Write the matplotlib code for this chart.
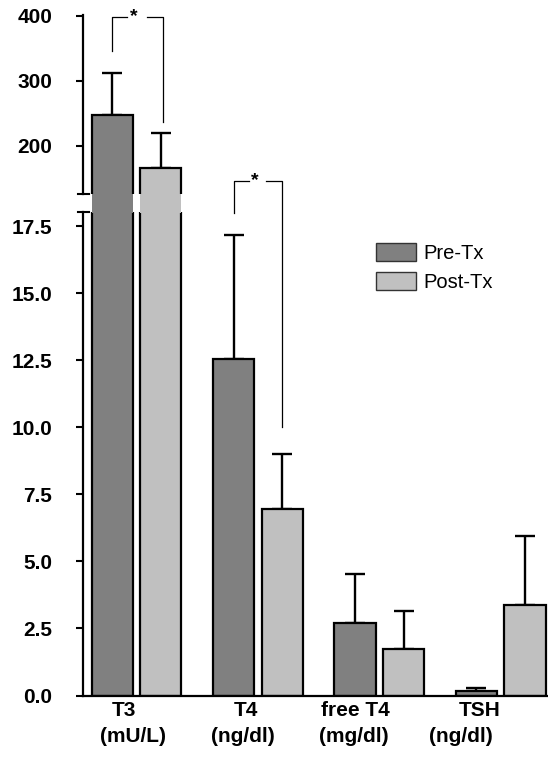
import numpy as np
import matplotlib
matplotlib.use("Agg")
from matplotlib import pyplot as plt
from matplotlib.patches import Rectangle, Patch
from matplotlib.lines import Line2D
from matplotlib.transforms import blended_transform_factory

plt.rcParams['font.family'] = ['Liberation Sans', 'DejaVu Sans']

# data
groups = ["T3", "T4", "free T4", "TSH"]
units = ["(mU/L)", "(ng/dl)", "(mg/dl)", "(ng/dl)"]
pre_mean = [247, 12.55, 2.72, 0.15]
pre_err = [65, 4.65, 1.80, 0.12]
post_mean = [166, 6.95, 1.74, 3.37]
post_err = [53, 2.05, 1.40, 2.58]
series = ["Pre-Tx", "Post-Tx"]
top_ticks = [200, 300, 400]
bot_ticks = [0.0, 2.5, 5.0, 7.5, 10.0, 12.5, 15.0, 17.5]

c_pre = "#808080"
c_post = "#c0c0c0"

W, H = 548, 757
fig = plt.figure(figsize=(W / 100, H / 100), dpi=100)

def fx(px):
    return px / W

def fy(py):
    return 1 - py / H

# axes: lower 0..18, upper 126..400
ax_top = fig.add_axes([fx(83), fy(194), fx(W - 83), fy(15) - fy(194)])
ax_bot = fig.add_axes([fx(83), fy(695.5), fx(W - 83), fy(212) - fy(695.5)])

x = np.arange(len(groups))
bw = 0.34
off = 0.2

for ax in (ax_top, ax_bot):
    ax.bar(x - off, pre_mean, bw, color=c_pre, edgecolor="black", lw=1.6, zorder=2)
    ax.bar(x + off, post_mean, bw, color=c_post, edgecolor="black", lw=1.6, zorder=2)
    ax.errorbar(x - off, pre_mean, yerr=[np.zeros(4), pre_err], fmt="none",
                ecolor="black", elinewidth=1.7, capsize=7.5, capthick=1.7, zorder=1)
    ax.errorbar(x + off, post_mean, yerr=[np.zeros(4), post_err], fmt="none",
                ecolor="black", elinewidth=1.7, capsize=7.5, capthick=1.7, zorder=1)
    ax.set_xlim(-0.441, 3.39)
    ax.set_facecolor("none")
    for s in ("top", "right"):
        ax.spines[s].set_visible(False)
    ax.spines["left"].set_linewidth(1.6)
    ax.set_xticks([])

ax_top.set_ylim(126, 401)
ax_top.spines["bottom"].set_visible(False)
ax_top.set_yticks(top_ticks)
ax_top.set_yticklabels(["%d" % t for t in top_ticks])

ax_bot.set_ylim(0, 18.04)
ax_bot.spines["bottom"].set_linewidth(1.6)
ax_bot.set_yticks(bot_ticks)
ax_bot.set_yticklabels(["%.1f" % t for t in bot_ticks])

for ax in (ax_top, ax_bot):
    ax.tick_params(axis="y", length=5, width=1.5, pad=17, labelsize=15)
    for lab in ax.get_yticklabels():
        lab.set_fontweight("bold")

# gray fill of the T3 bars through the axis break
tr = blended_transform_factory(ax_bot.transData, fig.transFigure)
for xc, col in ((x[0] - off, c_pre), (x[0] + off, c_post)):
    fig.add_artist(Rectangle((xc - bw / 2, fy(212.5)), bw, fy(193.5) - fy(212.5),
                             transform=tr, facecolor=col, edgecolor="none", zorder=5))

# caps at the break ends of the y axis
for py in (194, 212):
    fig.add_artist(Line2D([fx(78), fx(89)], [fy(py), fy(py)],
                          transform=fig.transFigure, color="black", lw=1.5))

# significance brackets
def bracket(ax, xl, xr, y_left, y_top, y_right):
    kw = dict(color="black", lw=0.9, clip_on=False)
    ax.plot([xl, xl, xl + 0.125], [y_left, y_top, y_top], **kw)
    ax.plot([xr - 0.13, xr, xr], [y_top, y_top, y_right], **kw)
    ax.text(xl + 0.175, y_top, "*", ha="center", va="center", fontsize=14,
            fontweight="bold", clip_on=False)

bracket(ax_top, x[0] - off, x[0] + off + 0.02, 346, 398, 236)
bracket(ax_bot, x[1] - off, x[1] + off, 18.0, 19.2, 10.0)

# category labels (two lines)
line1_dx = [-0.10, -0.10, -0.20, -0.17]
line2_dx = [-0.03, -0.12, -0.21, -0.33]
for i in range(len(groups)):
    ax_bot.text(x[i] + line1_dx[i], fy(711), groups[i], transform=tr,
                ha="center", va="center", fontsize=15, fontweight="bold")
    ax_bot.text(x[i] + line2_dx[i], fy(737), units[i], transform=tr,
                ha="center", va="center", fontsize=15, fontweight="bold")

handles = [Patch(facecolor=c_pre, edgecolor="#333333", lw=1.0),
           Patch(facecolor=c_post, edgecolor="#333333", lw=1.0)]
fig.legend(handles, series, loc="upper left", bbox_to_anchor=(fx(376), fy(243)),
           frameon=False, fontsize=14.5, handlelength=2.0, handleheight=1.0,
           handletextpad=0.35, labelspacing=0.45, borderpad=0, borderaxespad=0)

fig.savefig("out.png", dpi=100)
